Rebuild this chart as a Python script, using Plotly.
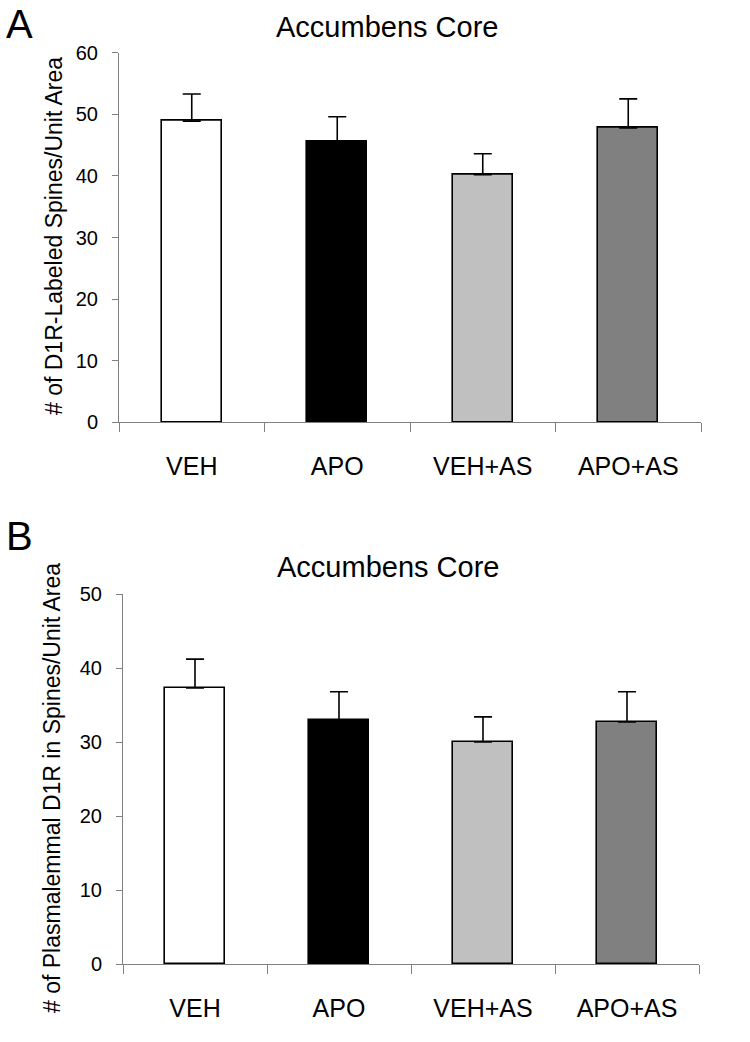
import plotly.graph_objects as go

categories = ["VEH", "APO", "VEH+AS", "APO+AS"]
bar_colors = ["#FFFFFF", "#000000", "#C0C0C0", "#808080"]

# Panel A: # of D1R-Labeled Spines/Unit Area
a_values = [48.9, 45.5, 40.2, 47.8]
a_errors = [4.4, 4.1, 3.4, 4.7]

# Panel B: # of Plasmalemmal D1R in Spines/Unit Area
b_values = [37.3, 33.0, 30.0, 32.7]
b_errors = [3.9, 3.8, 3.4, 4.1]

a_ticks = [0, 10, 20, 30, 40, 50, 60]
b_ticks = [0, 10, 20, 30, 40, 50]

FONT = "Liberation Sans, Arial, sans-serif"
W, H = 750, 1042
GRAY = "#808080"

fig = go.Figure()

def add_bars(vals, errs, xa, ya):
    fig.add_trace(go.Bar(
        x=categories, y=vals, xaxis=xa, yaxis=ya,
        width=0.41,
        marker=dict(color=bar_colors, line=dict(color="black", width=1.6)),
        error_y=dict(type="data", array=errs, arrayminus=[0]*len(errs),
                     symmetric=False, color="black", thickness=1.6, width=9),
        showlegend=False,
    ))

add_bars(a_values, a_errors, "x", "y")
add_bars(b_values, b_errors, "x2", "y2")

xcommon = dict(
    type="category", range=[-0.5, 3.5], tickson="boundaries",
    ticks="outside", ticklen=9, tickcolor=GRAY, tickwidth=1,
    showline=True, linecolor=GRAY, linewidth=1, showgrid=False,
    tickfont=dict(family=FONT, size=25, color="black"),
    ticklabelstandoff=22, zeroline=False, automargin=False,
)
ycommon = dict(
    ticks="outside", ticklen=6, tickcolor=GRAY, tickwidth=1,
    showline=True, linecolor=GRAY, linewidth=1, showgrid=False,
    zeroline=False, tickfont=dict(family=FONT, size=20, color="black"),
    ticklabelstandoff=10, automargin=False,
)

fig.update_layout(
    width=W, height=H,
    margin=dict(l=0, r=0, t=0, b=0, autoexpand=False),
    paper_bgcolor="white", plot_bgcolor="white",
    bargap=0,
    xaxis=dict(domain=[119/W, 701/W], anchor="y", **xcommon),
    yaxis=dict(domain=[(H-422.3)/H, (H-52.7)/H], anchor="x",
               range=[0, 60], tickvals=a_ticks, **ycommon),
    xaxis2=dict(domain=[123/W, 699/W], anchor="y2", **xcommon),
    yaxis2=dict(domain=[(H-964)/H, (H-594)/H], anchor="x2",
                range=[0, 50], tickvals=b_ticks, **ycommon),
)

ann = [
    dict(text="A", x=4/W, y=1, xanchor="left", yanchor="top",
         font=dict(family=FONT, size=40, color="black")),
    dict(text="B", x=4/W, y=1-536/H, xanchor="left", yanchor="middle",
         font=dict(family=FONT, size=40, color="black")),
    dict(text="Accumbens Core", x=387/W, y=1-27/H, xanchor="center", yanchor="middle",
         font=dict(family=FONT, size=29, color="black")),
    dict(text="Accumbens Core", x=388/W, y=1-567/H, xanchor="center", yanchor="middle",
         font=dict(family=FONT, size=29, color="black")),
    dict(text="# of D1R-Labeled Spines/Unit Area", x=54/W, y=1-236/H,
         xanchor="center", yanchor="middle", textangle=-90,
         font=dict(family=FONT, size=23, color="black")),
    dict(text="# of Plasmalemmal D1R in Spines/Unit Area", x=52/W, y=1-788/H,
         xanchor="center", yanchor="middle", textangle=-90,
         font=dict(family=FONT, size=23, color="black")),
]
for a in ann:
    a.update(xref="paper", yref="paper", showarrow=False)
fig.update_layout(annotations=ann)

fig.write_html(
    "out.html",
    config={"displayModeBar": False},
    post_script="document.body.style.margin='0';document.body.style.overflow='hidden';",
)
